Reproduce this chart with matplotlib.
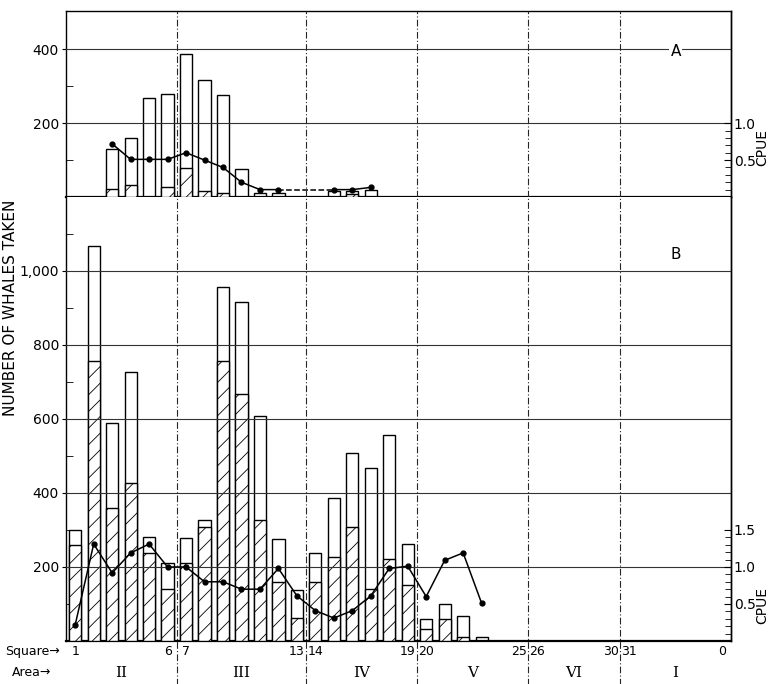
import matplotlib.pyplot as plt
import numpy as np

plt.rcParams['font.family'] = ['Liberation Sans Narrow', 'DejaVu Sans']
plt.rcParams['hatch.linewidth'] = 0.6

# top panel (A): whales taken per 10-degree square, hatched part and CPUE
a_squares = [3, 4, 5, 6, 7, 8, 9, 10, 11, 12, 15, 16, 17]
a_total = [130, 161, 267, 278, 387, 318, 277, 77, 10, 10, 17, 17, 20]
a_hatched = [21, 32, 0, 26, 78, 17, 10, 0, 0, 0, 0, 8, 0]
a_cpue_sq1 = [3, 4, 5, 6, 7, 8, 9, 10, 11, 12]
a_cpue1 = [0.72, 0.51, 0.51, 0.51, 0.60, 0.50, 0.40, 0.20, 0.10, 0.10]
a_cpue_sq2 = [15, 16, 17]
a_cpue2 = [0.10, 0.10, 0.13]

# bottom panel (B)
b_squares = list(range(1, 24))
b_total = [300, 1068, 588, 728, 280, 210, 278, 327, 956, 917, 608, 275,
           138, 239, 387, 509, 468, 557, 261, 59, 100, 68, 10]
b_hatched = [259, 758, 359, 428, 239, 140, 210, 307, 758, 668, 327, 160,
             61, 160, 226, 309, 140, 221, 151, 32, 59, 10, 0]
b_cpue = [0.22, 1.31, 0.92, 1.19, 1.31, 1.00, 1.00, 0.80, 0.80, 0.70, 0.70, 0.98,
          0.61, 0.41, 0.31, 0.41, 0.61, 0.98, 1.01, 0.60, 1.09, 1.19, 0.51]

square_pos = [1, 6, 7, 13, 14, 19, 20, 25, 26, 30, 31, 36]
square_labels = ['1', '6', '7', '13', '14', '19', '20', '25', '26', '30', '31', '0']
area_names = ['II', 'III', 'IV', 'V', 'VI', 'I']
area_bounds = [0, 6, 13, 19, 25, 30, 36]

fig = plt.figure(figsize=(7.69, 6.84), dpi=100)
axA = fig.add_axes([0.0858, 0.712, 0.8648, 0.2724])
axB = fig.add_axes([0.0858, 0.0629, 0.8648, 0.6491])


def draw_bars(ax, sq, total, hatched):
    x = np.array(sq) - 0.5
    ax.bar(x, total, width=0.66, facecolor='white', edgecolor='black', lw=1.0, zorder=2)
    ax.bar(x, hatched, width=0.66, facecolor='white', edgecolor='black',
           hatch='//', lw=1.0, zorder=3)


draw_bars(axA, a_squares, a_total, a_hatched)
draw_bars(axB, b_squares, b_total, b_hatched)

axA.set_xlim(0, 36)
axB.set_xlim(0, 36)
axA.set_ylim(0, 505)
axB.set_ylim(0, 1200)

# grid
for y in [200, 400]:
    axA.axhline(y, color='0.2', lw=0.8, zorder=4)
for y in [200, 400, 600, 800, 1000]:
    axB.axhline(y, color='0.2', lw=0.8, zorder=4)

# area boundaries
for b in area_bounds[1:-1]:
    axA.axvline(b, color='0.15', lw=0.8, ls=(0, (6, 2, 1, 2)), zorder=4)
    axB.axvline(b, ymin=-0.1, ymax=1, color='0.15', lw=0.8, ls=(0, (6, 2, 1, 2)),
                zorder=4, clip_on=False)

# left axes
axA.set_yticks([200, 400])
axA.set_yticks([100, 300], minor=True)
axB.set_yticks([200, 400, 600, 800, 1000])
axB.set_yticklabels(['200', '400', '600', '800', '1,000'])
axB.set_yticks(np.arange(100, 1200, 200), minor=True)
for ax in (axA, axB):
    ax.tick_params(axis='y', which='major', direction='out', length=3, labelsize=10, pad=2)
    ax.tick_params(axis='y', which='minor', direction='in', length=5)
    for s in ax.spines.values():
        s.set_linewidth(1.0)
    ax.spines['bottom'].set_linewidth(1.6)
axA.set_xticks([])
axB.spines['top'].set_visible(False)
axB.set_xticks(np.array(square_pos) - 0.5)
axB.set_xticklabels(square_labels)
axB.tick_params(axis='x', length=0, labelsize=9, pad=3)

# CPUE on the right
tA = axA.twinx()
tA.set_ylim(0, 505 / 200)
tA.plot(np.array(a_cpue_sq1) - 0.5, a_cpue1, color='black', lw=1.1, marker='o', ms=3.5)
tA.plot([a_cpue_sq1[-1] - 0.5, a_cpue_sq2[0] - 0.5], [a_cpue1[-1], a_cpue2[0]],
        color='black', lw=1.1, ls='--')
tA.plot(np.array(a_cpue_sq2) - 0.5, a_cpue2, color='black', lw=1.1, marker='o', ms=3.5)
tA.set_yticks([0.5, 1.0])
tA.set_yticks(np.arange(0.1, 1.01, 0.1), minor=True)

tB = axB.twinx()
tB.set_ylim(0, 6)
tB.plot(np.array(b_squares) - 0.5, b_cpue, color='black', lw=1.1, marker='o', ms=3.5)
tB.set_yticks([0.5, 1.0, 1.5])
tB.set_yticks(np.arange(0.1, 1.51, 0.1), minor=True)

for t in (tA, tB):
    for side in ['left', 'top', 'bottom']:
        t.spines[side].set_visible(False)
    t.spines['right'].set_linewidth(1.0)
    t.tick_params(axis='y', which='major', direction='in', length=5, labelsize=10, pad=2)
    t.tick_params(axis='y', which='minor', direction='in', length=4)

# labels
axA.text(33, 395, 'A', ha='center', va='center', fontsize=11, zorder=6,
         bbox=dict(facecolor='white', edgecolor='none', pad=1))
axB.text(33, 1045, 'B', ha='center', va='center', fontsize=11, zorder=6)

fig.text(0.004, 0.55, 'NUMBER OF WHALES TAKEN', rotation=90, va='center', ha='left', fontsize=11)
fig.text(762 / 769, 1 - 147 / 684, 'CPUE', rotation=90, ha='center', va='center', fontsize=10)
fig.text(762 / 769, 1 - 605 / 684, 'CPUE', rotation=90, ha='center', va='center', fontsize=10)
fig.text(5 / 769, 1 - 651 / 684, 'Square\u2192', va='center', ha='left', fontsize=9)
fig.text(12 / 769, 1 - 673 / 684, 'Area\u2192', va='center', ha='left', fontsize=9)

xt = axB.get_xaxis_transform()
for i, name in enumerate(area_names):
    axB.text((area_bounds[i] + area_bounds[i + 1]) / 2, -0.072, name, transform=xt,
             ha='center', va='center', fontsize=11, family='DejaVu Serif')

fig.savefig('out.png', dpi=100)
